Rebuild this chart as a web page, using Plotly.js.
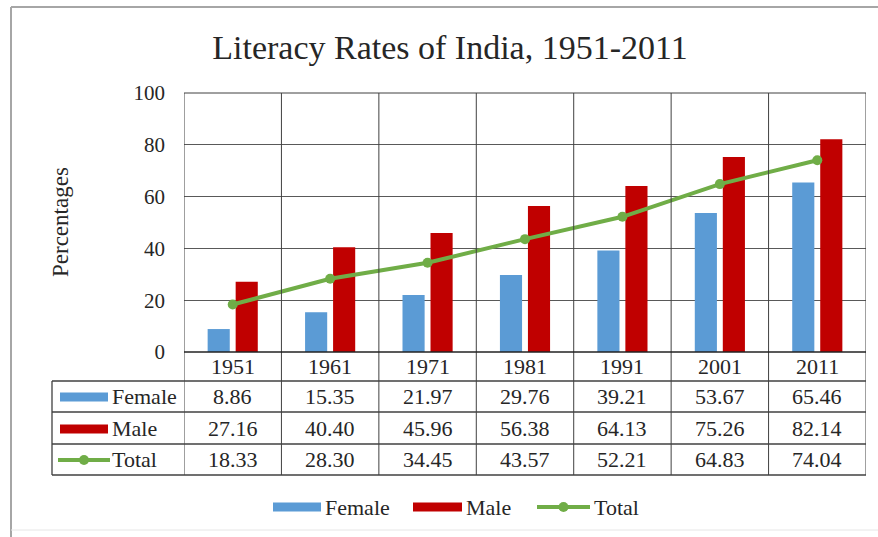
<!DOCTYPE html>
<html>
<head>
<meta charset="utf-8">
<script src="https://cdn.plot.ly/plotly-3.0.1.min.js"></script>
<style>html,body{margin:0;padding:0;background:#fff;}#chart{width:878px;height:537px;}</style>
</head>
<body>
<div id="chart"></div>
<script>
const years = ['1951','1961','1971','1981','1991','2001','2011'];
const female = [8.86, 15.35, 21.97, 29.76, 39.21, 53.67, 65.46];
const male = [27.16, 40.40, 45.96, 56.38, 64.13, 75.26, 82.14];
const total = [18.33, 28.30, 34.45, 43.57, 52.21, 64.83, 74.04];
const seriesNames = ['Female', 'Male', 'Total'];

const W = 878, H = 537;
const L = 184, R = 866, T = 93, B = 352;
const px = x => (x - L) / (R - L);
const py = y => (B - y) / (B - T);
const FONT = 'Liberation Serif, Times New Roman, serif';
const TXT = '#262626';
const BLUE = '#5b9bd5', RED = '#c00000', GREEN = '#70ad47';
const TFS = 22;

const traces = [
  {type:'bar', name:seriesNames[0], x:years, y:female, marker:{color:BLUE}, showlegend:false},
  {type:'bar', name:seriesNames[1], x:years, y:male, marker:{color:RED}, showlegend:false},
  {type:'scatter', mode:'lines+markers', name:seriesNames[2], x:years, y:total,
   line:{color:GREEN, width:4}, marker:{color:GREEN, size:10, symbol:'circle'}, showlegend:false}
];

const shapes = [];
const annotations = [];
const lineC = '#404040';
const rowY = [352, 381, 412, 444, 475];
const rowCenters = [366.5, 396.5, 428, 459.5];
for (let i = 0; i <= years.length; i++) {
  shapes.push({type:'line', xref:'x', yref:'paper', x0:i-0.5, x1:i-0.5, y0:py(475), y1:1,
    line:{color:lineC, width:1}, layer:'above'});
}
shapes.push({type:'line', xref:'paper', yref:'paper', x0:0, x1:1, y0:0, y1:0, line:{color:'#222', width:1.5}});
for (let k = 1; k < rowY.length; k++) {
  shapes.push({type:'line', xref:'paper', yref:'paper', x0:px(52), x1:1, y0:py(rowY[k]), y1:py(rowY[k]),
    line:{color:lineC, width:1.3}});
}
shapes.push({type:'line', xref:'paper', yref:'paper', x0:px(52), x1:px(52), y0:py(475), y1:py(381), line:{color:lineC, width:1.3}});
shapes.push({type:'line', xref:'paper', yref:'paper', x0:0, x1:1, y0:1, y1:1, line:{color:lineC, width:1}});

const rows = [female, male, total];
years.forEach((yr, i) => {
  annotations.push({xref:'x', yref:'paper', x:i, y:py(rowCenters[0]), text:yr, showarrow:false,
    font:{family:FONT, size:TFS, color:TXT}, xanchor:'center', yanchor:'middle'});
  rows.forEach((arr, r) => {
    annotations.push({xref:'x', yref:'paper', x:i, y:py(rowCenters[r+1]), text:arr[i].toFixed(2), showarrow:false,
      font:{family:FONT, size:TFS, color:TXT}, xanchor:'center', yanchor:'middle'});
  });
});

function barKey(x0, x1, yc, color) {
  shapes.push({type:'rect', xref:'paper', yref:'paper', x0:px(x0), x1:px(x1), y0:py(yc+4.5), y1:py(yc-4.5),
    fillcolor:color, line:{width:0}});
}
function lineKey(x0, x1, yc) {
  shapes.push({type:'line', xref:'paper', yref:'paper', x0:px(x0), x1:px(x1), y0:py(yc), y1:py(yc),
    line:{color:GREEN, width:4}});
  const cx = (x0 + x1) / 2;
  shapes.push({type:'circle', xref:'paper', yref:'paper', x0:px(cx-5), x1:px(cx+5), y0:py(yc+5), y1:py(yc-5),
    fillcolor:GREEN, line:{width:0}});
}
function label(x, yc, text) {
  annotations.push({xref:'paper', yref:'paper', x:px(x), y:py(yc), text:text, showarrow:false,
    font:{family:FONT, size:TFS, color:TXT}, xanchor:'left', yanchor:'middle', xshift:-2});
}
barKey(60, 108, 397, BLUE); label(112, rowCenters[1], seriesNames[0]);
barKey(60, 108, 429, RED); label(112, rowCenters[2], seriesNames[1]);
lineKey(58, 110, 460); label(112, rowCenters[3], seriesNames[2]);
barKey(273, 321, 507, BLUE); label(325, 507, seriesNames[0]);
barKey(413, 462, 507, RED); label(466, 507, seriesNames[1]);
lineKey(537, 590, 507); label(594, 507, seriesNames[2]);

annotations.push({xref:'paper', yref:'paper', x:px(60), y:py(222), text:'Percentages', textangle:-90,
  showarrow:false, font:{family:FONT, size:23, color:TXT}, xanchor:'center', yanchor:'middle'});

shapes.push({type:'line', xref:'paper', yref:'paper', x0:px(11), x1:px(878), y0:py(7), y1:py(7), line:{color:'#a6a6a6', width:2}});
shapes.push({type:'line', xref:'paper', yref:'paper', x0:px(11), x1:px(11), y0:py(7), y1:py(537), line:{color:'#a6a6a6', width:2}});
shapes.push({type:'line', xref:'paper', yref:'paper', x0:px(11), x1:px(878), y0:py(530), y1:py(530), line:{color:'#e6e6e6', width:1}});

const layout = {
  width: W, height: H,
  margin: {l:L, r:W-R, t:T, b:H-B, pad:0},
  paper_bgcolor:'#fff', plot_bgcolor:'#fff',
  title: {text:'Literacy Rates of India, 1951-2011', font:{family:FONT, size:34, color:TXT},
    xref:'container', yref:'container', x:450/W, y:1-47/H, xanchor:'center', yanchor:'middle'},
  barmode:'group', bargap:0.425, bargroupgap:0.21,
  showlegend:false,
  xaxis: {type:'category', showticklabels:false, showgrid:false, zeroline:false, ticks:'', showline:false,
    range:[-0.5, years.length-0.5], fixedrange:true},
  yaxis: {range:[0,100], dtick:20, showgrid:true, gridcolor:'#595959', gridwidth:1, zeroline:false,
    showline:false, ticks:'', ticklabelstandoff:18,
    tickfont:{family:FONT, size:21, color:TXT}, fixedrange:true},
  shapes: shapes,
  annotations: annotations
};

Plotly.newPlot('chart', traces, layout, {displayModeBar:false, staticPlot:true});
</script>
</body>
</html>
